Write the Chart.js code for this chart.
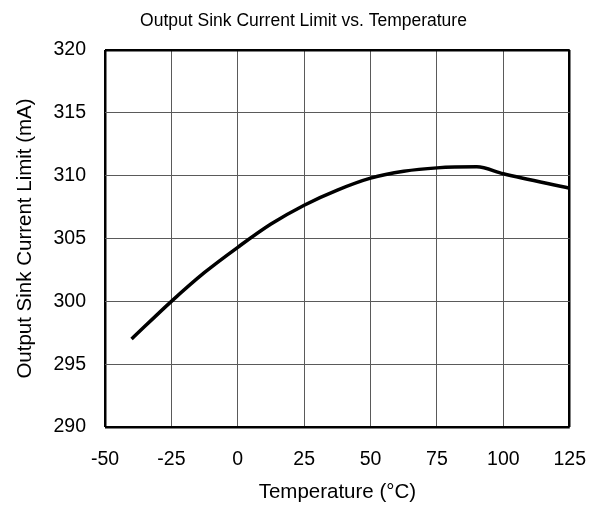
<!DOCTYPE html>
<html>
<head>
<meta charset="utf-8">
<script src="https://cdn.jsdelivr.net/npm/chart.js@4"></script>
<style>
  html, body { margin: 0; padding: 0; background: #fff; }
  #wrap { width: 607px; height: 507px; }
</style>
</head>
<body>
<div id="wrap"><canvas id="chart" width="607" height="507"></canvas></div>
<script>
const temperatures = [-40, -25, -12.5, 0, 12.5, 25, 37.5, 50, 62.5, 75, 90, 100, 125];
const sinkCurrent = [297.0, 300.0, 302.3, 304.3, 306.15, 307.65, 308.85, 309.8, 310.35, 310.62, 310.7, 310.15, 309.0];

const fontFamily = "'Liberation Sans', Arial, sans-serif";
const gridGray = '#5a5a5a';

const points = temperatures.map((t, i) => ({ x: t, y: sinkCurrent[i] }));

const edgeColor = (min, max) => ctx => (ctx.tick && (ctx.tick.value === min || ctx.tick.value === max)) ? '#000' : gridGray;
const edgeWidth = (min, max) => ctx => (ctx.tick && (ctx.tick.value === min || ctx.tick.value === max)) ? 2.5 : 1;

Chart.defaults.font.family = fontFamily;
Chart.defaults.color = '#000';

new Chart(document.getElementById('chart').getContext('2d'), {
    type: 'line',
    data: {
        datasets: [{
            label: 'Output Sink Current Limit',
            data: points,
            borderColor: '#000',
            borderWidth: 3.5,
            pointRadius: 0,
            fill: false,
            cubicInterpolationMode: 'monotone'
        }]
    },
    options: {
        responsive: false,
        animation: false,
        layout: { padding: 0 },
        plugins: {
            legend: { display: false },
            tooltip: { enabled: false },
            title: {
                display: true,
                text: 'Output Sink Current Limit vs. Temperature',
                color: '#000',
                font: { size: 17.5, weight: 'normal' },
                padding: { top: 10.5, bottom: 18.5 }
            }
        },
        scales: {
            x: {
                type: 'linear',
                min: -50,
                max: 125,
                border: { display: false },
                grid: { color: edgeColor(-50, 125), lineWidth: edgeWidth(-50, 125), drawTicks: false },
                ticks: { stepSize: 25, padding: 21, font: { size: 19.5 }, color: '#000' },
                title: {
                    display: true,
                    text: 'Temperature (°C)',
                    color: '#000',
                    font: { size: 20.5 },
                    padding: { top: 0, bottom: 2 }
                },
                afterFit: scale => { scale.height = 80; }
            },
            y: {
                min: 290,
                max: 320,
                border: { display: false },
                grid: { color: edgeColor(290, 320), lineWidth: edgeWidth(290, 320), drawTicks: false },
                ticks: { stepSize: 5, padding: 19, font: { size: 19.5 }, color: '#000' },
                title: {
                    display: true,
                    text: 'Output Sink Current Limit (mA)',
                    color: '#000',
                    font: { size: 20.5 },
                    padding: { top: 13.5, bottom: 0 }
                },
                afterFit: scale => { scale.width = 105; }
            },
            // empty right-hand margin so the title centres on the full canvas
            spacer: {
                position: 'right',
                display: true,
                border: { display: false },
                grid: { display: false, drawTicks: false },
                ticks: { display: false },
                afterFit: scale => { scale.width = 28; }
            }
        }
    }
});
</script>
</body>
</html>
